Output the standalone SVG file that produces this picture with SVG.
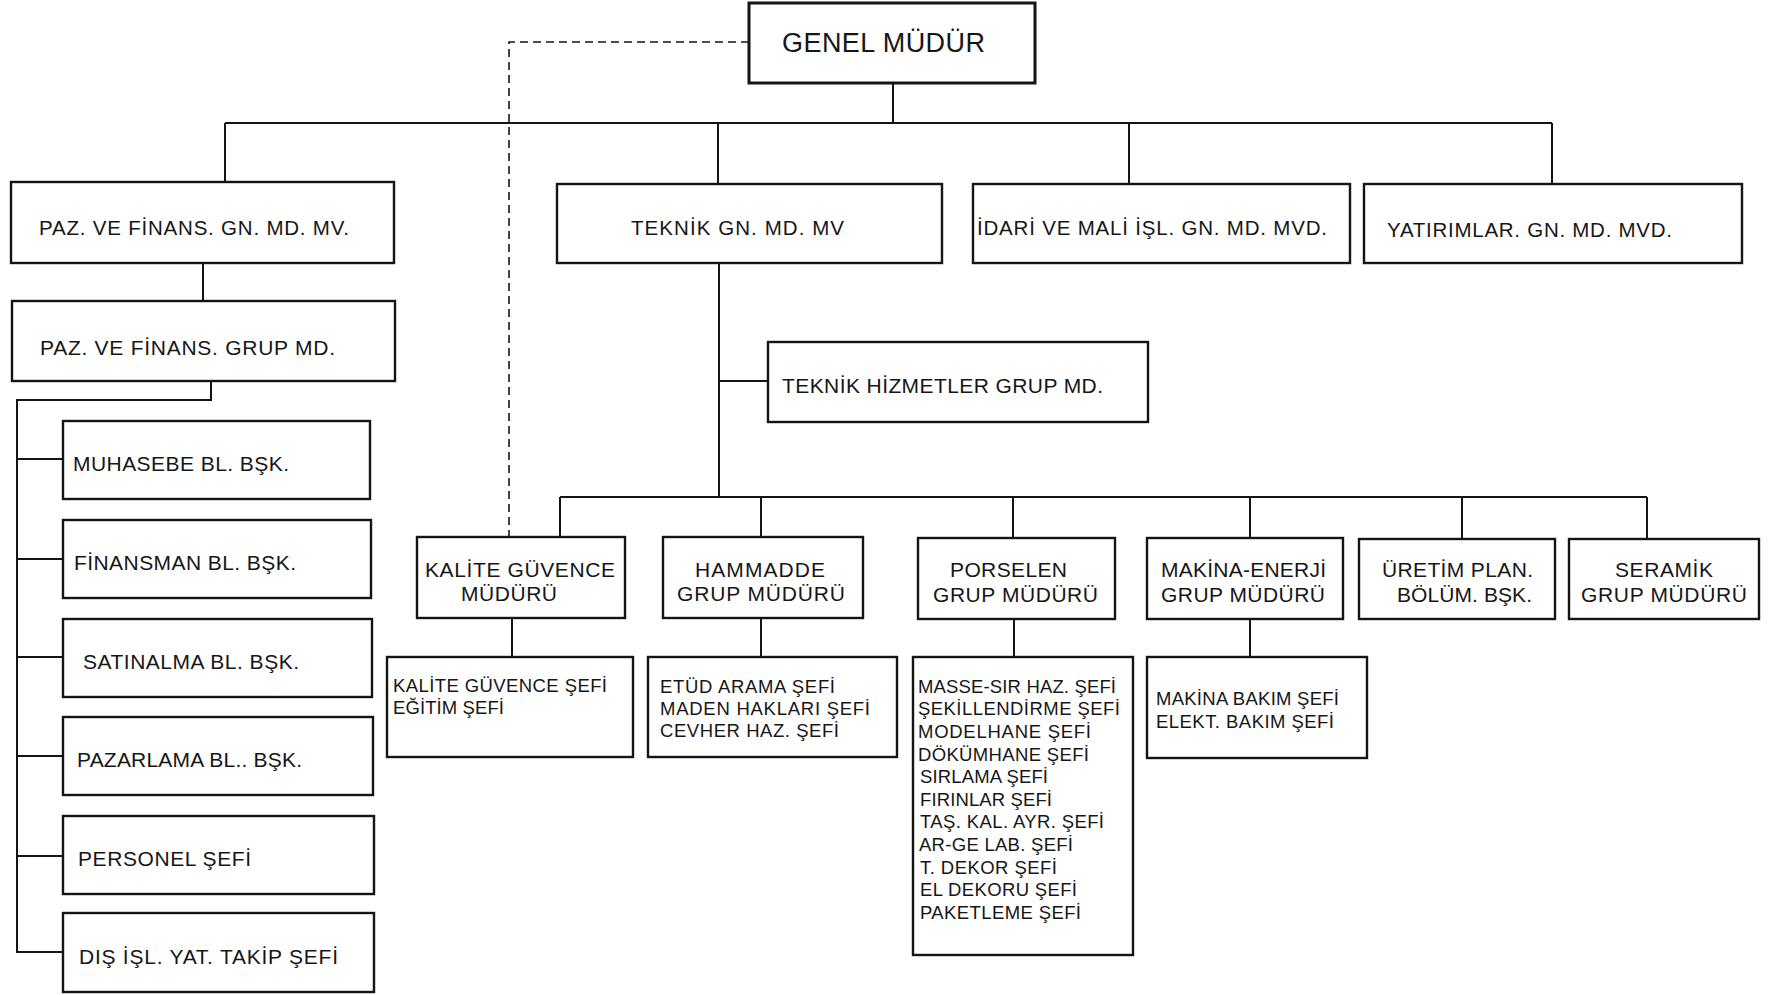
<svg xmlns="http://www.w3.org/2000/svg" width="1779" height="995" viewBox="0 0 1779 995">
  <style>
    .box { fill: #ffffff; stroke: #141414; stroke-width: 2.4; }
    .thick { stroke-width: 3; }
    .wire { fill: none; stroke: #141414; stroke-width: 2; }
    .dash { fill: none; stroke: #141414; stroke-width: 1.6; stroke-dasharray: 8 5; }
    text { font-family: "Liberation Sans", Arial, sans-serif; fill: #161616; }
    .t1 { font-size: 27px; }
    .t2 { font-size: 20.5px; }
    .t3 { font-size: 21px; }
    .t4 { font-size: 18.5px; }
  </style>
  <rect width="1779" height="995" fill="#ffffff"/>

  <!-- connectors -->
  <g id="connectors">
    <path class="wire" d="M893 83 V123"/>
    <path class="wire" d="M225 123 H1552"/>
    <path class="wire" d="M225 123 V182 M718 123 V184 M1129 123 V184 M1552 123 V184"/>
    <path class="wire" d="M203 263 V301"/>
    <path class="wire" d="M211 381 V400 H17 V952 H63"/>
    <path class="wire" d="M17 459 H63 M17 559 H63 M17 657 H63 M17 756 H63 M17 856 H63"/>
    <path class="wire" d="M719 263 V497"/>
    <path class="wire" d="M719 381 H768"/>
    <path class="wire" d="M560 497 H1647"/>
    <path class="wire" d="M560 497 V537 M761 497 V537 M1013 497 V538 M1250 497 V538 M1462 497 V539 M1647 497 V539"/>
    <path class="wire" d="M512 618 V657 M761 618 V657 M1014 619 V657 M1250 619 V657"/>
    <path class="dash" d="M749 42 H509 V537"/>
  </g>

  <g id="genel-mudur">
    <rect class="box thick" x="749" y="3" width="286" height="80"/>
    <text class="t1" x="782" y="52" textLength="203">GENEL MÜDÜR</text>
  </g>

  <g id="paz-finans-gn">
    <rect class="box" x="11" y="182" width="383" height="81"/>
    <text class="t2" x="39" y="235" textLength="310">PAZ. VE FİNANS. GN. MD. MV.</text>
  </g>
  <g id="teknik-gn">
    <rect class="box" x="557" y="184" width="385" height="79"/>
    <text class="t2" x="631" y="235" textLength="213">TEKNİK GN. MD. MV</text>
  </g>
  <g id="idari-mali">
    <rect class="box" x="973" y="184" width="377" height="79"/>
    <text class="t2" x="977" y="235" textLength="350">İDARİ VE MALİ İŞL. GN. MD. MVD.</text>
  </g>
  <g id="yatirimlar">
    <rect class="box" x="1364" y="184" width="378" height="79"/>
    <text class="t2" x="1387" y="237" textLength="285">YATIRIMLAR. GN. MD. MVD.</text>
  </g>

  <g id="paz-finans-grup">
    <rect class="box" x="12" y="301" width="383" height="80"/>
    <text class="t3" x="40" y="355" textLength="295">PAZ. VE FİNANS. GRUP  MD.</text>
  </g>
  <g id="muhasebe">
    <rect class="box" x="63" y="421" width="307" height="78"/>
    <text class="t3" x="73" y="471" textLength="216">MUHASEBE BL. BŞK.</text>
  </g>
  <g id="finansman">
    <rect class="box" x="63" y="520" width="308" height="78"/>
    <text class="t3" x="74" y="570" textLength="222">FİNANSMAN BL. BŞK.</text>
  </g>
  <g id="satinalma">
    <rect class="box" x="63" y="619" width="309" height="78"/>
    <text class="t3" x="83" y="669" textLength="216">SATINALMA BL. BŞK.</text>
  </g>
  <g id="pazarlama">
    <rect class="box" x="63" y="717" width="310" height="78"/>
    <text class="t3" x="77" y="767" textLength="225">PAZARLAMA BL.. BŞK.</text>
  </g>
  <g id="personel">
    <rect class="box" x="63" y="816" width="311" height="78"/>
    <text class="t3" x="78" y="866" textLength="173">PERSONEL ŞEFİ</text>
  </g>
  <g id="dis-isl">
    <rect class="box" x="63" y="913" width="311" height="79"/>
    <text class="t3" x="79" y="964" textLength="259">DIŞ İŞL. YAT. TAKİP ŞEFİ</text>
  </g>

  <g id="teknik-hizmetler">
    <rect class="box" x="768" y="342" width="380" height="80"/>
    <text class="t3" x="782" y="393" textLength="321">TEKNİK HİZMETLER GRUP MD.</text>
  </g>

  <g id="kalite">
    <rect class="box" x="417" y="537" width="208" height="81"/>
    <text class="t3" x="425" y="577" textLength="190">KALİTE GÜVENCE</text>
    <text class="t3" x="461" y="601" textLength="96">MÜDÜRÜ</text>
  </g>
  <g id="hammadde">
    <rect class="box" x="663" y="537" width="200" height="81"/>
    <text class="t3" x="695" y="577" textLength="130">HAMMADDE</text>
    <text class="t3" x="677" y="601" textLength="168">GRUP MÜDÜRÜ</text>
  </g>
  <g id="porselen">
    <rect class="box" x="918" y="538" width="197" height="81"/>
    <text class="t3" x="950" y="577" textLength="117">PORSELEN</text>
    <text class="t3" x="933" y="602" textLength="165">GRUP MÜDÜRÜ</text>
  </g>
  <g id="makina-enerji">
    <rect class="box" x="1147" y="538" width="196" height="81"/>
    <text class="t3" x="1161" y="577" textLength="165">MAKİNA-ENERJİ</text>
    <text class="t3" x="1161" y="602" textLength="164">GRUP MÜDÜRÜ</text>
  </g>
  <g id="uretim-plan">
    <rect class="box" x="1359" y="539" width="196" height="80"/>
    <text class="t3" x="1382" y="577" textLength="151">ÜRETİM PLAN.</text>
    <text class="t3" x="1397" y="602" textLength="135">BÖLÜM. BŞK.</text>
  </g>
  <g id="seramik">
    <rect class="box" x="1569" y="539" width="190" height="80"/>
    <text class="t3" x="1615" y="577" textLength="98">SERAMİK</text>
    <text class="t3" x="1581" y="602" textLength="166">GRUP MÜDÜRÜ</text>
  </g>

  <g id="kalite-sefleri">
    <rect class="box" x="387" y="657" width="246" height="100"/>
    <text class="t4" x="393" y="692" textLength="214">KALİTE GÜVENCE ŞEFİ</text>
    <text class="t4" x="393" y="714" textLength="111">EĞİTİM ŞEFİ</text>
  </g>
  <g id="hammadde-sefleri">
    <rect class="box" x="648" y="657" width="249" height="100"/>
    <text class="t4" x="660" y="693" textLength="175">ETÜD ARAMA ŞEFİ</text>
    <text class="t4" x="660" y="715" textLength="210">MADEN HAKLARI  ŞEFİ</text>
    <text class="t4" x="660" y="737" textLength="179">CEVHER HAZ. ŞEFİ</text>
  </g>
  <g id="porselen-sefleri">
    <rect class="box" x="913" y="657" width="220" height="298"/>
    <text class="t4" x="918" y="693" textLength="198">MASSE-SIR HAZ. ŞEFİ</text>
    <text class="t4" x="918" y="715" textLength="202">ŞEKİLLENDİRME  ŞEFİ</text>
    <text class="t4" x="918" y="738" textLength="173">MODELHANE  ŞEFİ</text>
    <text class="t4" x="918" y="761" textLength="171">DÖKÜMHANE ŞEFİ</text>
    <text class="t4" x="920" y="783" textLength="128">SIRLAMA ŞEFİ</text>
    <text class="t4" x="920" y="806" textLength="132">FIRINLAR ŞEFİ</text>
    <text class="t4" x="920" y="828" textLength="184">TAŞ. KAL. AYR. ŞEFİ</text>
    <text class="t4" x="919" y="851" textLength="154">AR-GE LAB. ŞEFİ</text>
    <text class="t4" x="920" y="874" textLength="137">T. DEKOR ŞEFİ</text>
    <text class="t4" x="920" y="896" textLength="157">EL DEKORU ŞEFİ</text>
    <text class="t4" x="920" y="919" textLength="161">PAKETLEME ŞEFİ</text>
  </g>
  <g id="makina-sefleri">
    <rect class="box" x="1147" y="657" width="220" height="101"/>
    <text class="t4" x="1156" y="705" textLength="183">MAKİNA BAKIM  ŞEFİ</text>
    <text class="t4" x="1156" y="728" textLength="178">ELEKT. BAKIM  ŞEFİ</text>
  </g>
</svg>
